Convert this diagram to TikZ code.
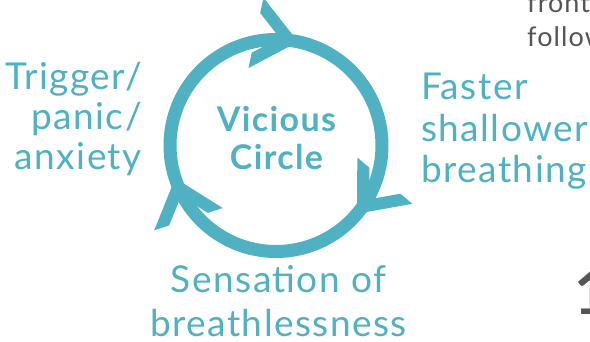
\documentclass[tikz,border=0pt]{standalone}
\usepackage{fontspec}
\setmainfont{Lato}
\newfontfamily\tealfont{Lato}[LetterSpace=4]
\usetikzlibrary{positioning}
\definecolor{lagoon}{HTML}{4FB1C1}
\definecolor{ink}{HTML}{555555}
\tikzset{
  lbl/.style={text=lagoon, font=\tealfont\fontsize{37}{40}\selectfont, inner sep=0pt},
  hub/.style={text=lagoon, font=\tealfont\fontsize{34}{38}\selectfont\bfseries, align=center, inner sep=0pt},
  ring/.style={draw=lagoon, line width=13pt},
  barb/.style={fill=lagoon},
  aside/.style={text=ink, font=\tealfont\fontsize{27}{34}\selectfont, inner sep=0pt},
}
\begin{document}
\begin{tikzpicture}[x=1pt,y=1pt]
\useasboundingbox (0,0) rectangle (590,342);
\clip (0,0) rectangle (590,342);
\coordinate (c) at (276,196.5);
% the loop and its three barbs
\draw[ring] (c) circle[radius=106];
\foreach \a in {78,-40,198}
  \fill[barb, shift={(c)}, shift={(\a:106)}, rotate=\a-90]
    (0,0) -- (-43,36) -- (-43,20.3) -- (-18.7,0) -- (-43,-20.3) -- (-43,-36) -- cycle;
\node[hub, anchor=base] (vic) at (276.5,172) {Vicious\\Circle};
\node[lbl, align=right, anchor=base east] (trig) at (142,172) {Trigger/\\panic/\\anxiety};
\node[lbl, font=\tealfont\fontsize{37}{41.5}\selectfont, align=left, anchor=base west] (fast) at (421,159) {Faster\\shallower\\breathing};
\node[lbl, font=\tealfont\fontsize{37}{44}\selectfont, align=center, anchor=base] (sens) at (278.5,5.3) {Sensation of\\breathlessness};
% cut-off text at the right edge
\node[aside, align=left, anchor=base west] (note) at (527,295) {front\\follow};
\node[text=ink, font=\fontsize{60}{60}\selectfont\bfseries, inner sep=0pt, anchor=base west] (one) at (574,27) {1};
\end{tikzpicture}
\end{document}
